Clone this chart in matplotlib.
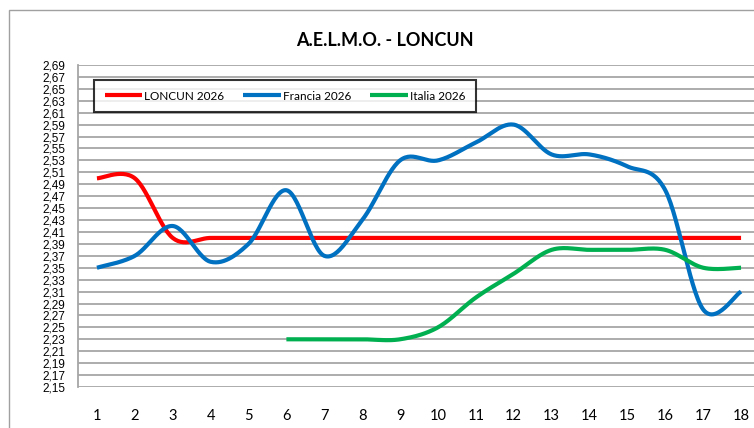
import numpy as np
import matplotlib.pyplot as plt
from matplotlib.patches import Rectangle

# data
meses = list(range(1, 19))
loncun = [2.50, 2.50, 2.40, 2.40, 2.40, 2.40, 2.40, 2.40, 2.40,
          2.40, 2.40, 2.40, 2.40, 2.40, 2.40, 2.40, 2.40, 2.40]
francia = [2.35, 2.37, 2.42, 2.36, 2.39, 2.48, 2.37, 2.43, 2.53,
           2.53, 2.56, 2.59, 2.54, 2.54, 2.52, 2.48, 2.28, 2.31]
italia_x = list(range(6, 19))
italia = [2.23, 2.23, 2.23, 2.23, 2.25, 2.30, 2.34, 2.38, 2.38,
          2.38, 2.38, 2.35, 2.35]
yticks = np.round(np.arange(2.15, 2.70, 0.02), 2)


def smooth(x, y, n=30):
    # Excel-like smoothed line: cubic Bezier with Catmull-Rom control points
    x = np.asarray(x, float)
    y = np.asarray(y, float)
    px = np.concatenate([[x[0]], x, [x[-1]]])
    py = np.concatenate([[y[0]], y, [y[-1]]])
    t = np.linspace(0, 1, n)
    xs, ys = [], []
    for i in range(1, len(px) - 2):
        p0 = np.array([px[i], py[i]])
        p3 = np.array([px[i + 1], py[i + 1]])
        c1 = p0 + (p3 - np.array([px[i - 1], py[i - 1]])) / 6
        c2 = p3 - (np.array([px[i + 2], py[i + 2]]) - p0) / 6
        b = ((1 - t) ** 3)[:, None] * p0 + (3 * (1 - t) ** 2 * t)[:, None] * c1 \
            + (3 * (1 - t) * t ** 2)[:, None] * c2 + (t ** 3)[:, None] * p3
        xs.append(b[:, 0])
        ys.append(b[:, 1])
    return np.concatenate(xs), np.concatenate(ys)


W, H = 754, 428
fig = plt.figure(figsize=(W / 100, H / 100), dpi=100)

# chart border
fig.patches.append(Rectangle((9 / W, -0.1), 1.2, (H - 10) / H + 0.1,
                             transform=fig.transFigure, fill=False,
                             edgecolor='#a0a0a0', lw=1.0))

ax = fig.add_axes([78 / W, (H - 387) / H, (760 - 78) / W, 322 / H])
ax.set_xlim(0.5, 18.5)
ax.set_ylim(2.15, 2.69)

for v in yticks:
    ax.axhline(v, color='#a6a6a6', lw=1.3, zorder=1)

ax.plot(*smooth(meses, loncun), color='#ff0000', lw=3, label='LONCUN 2026',
        solid_capstyle='butt', zorder=3)
ax.plot(*smooth(meses, francia), color='#0070c0', lw=3, label='Francia 2026',
        solid_capstyle='butt', zorder=3)
ax.plot(*smooth(italia_x, italia), color='#00b050', lw=3, label='Italia 2026',
        solid_capstyle='butt', zorder=3)

ax.set_yticks(yticks)
ax.set_yticklabels([f'{v:.2f}'.replace('.', ',') for v in yticks],
                   fontfamily='Liberation Sans', fontsize=8.5)
ax.set_xticks(meses)
ax.set_xticklabels([str(m) for m in meses], fontfamily='Lato', fontsize=10.5)
ax.tick_params(axis='y', length=0, pad=9)
ax.tick_params(axis='x', length=0, pad=16)

for s in ['top', 'right', 'bottom']:
    ax.spines[s].set_visible(False)
ax.spines['left'].set_color('#a6a6a6')
ax.spines['left'].set_linewidth(1.3)

fig.text(385 / W, 1 - 40 / H, 'A.E.L.M.O. - LONCUN', ha='center', va='center',
         fontfamily='Lato', fontweight='bold', fontsize=13)

leg = ax.legend(loc='upper left', bbox_to_anchor=(94 / W, 1 - 80 / H),
                bbox_transform=fig.transFigure, ncol=3, frameon=True,
                fancybox=False, prop={'family': 'Lato', 'size': 8.5},
                handlelength=3.2, handletextpad=0.15, columnspacing=1.6,
                borderpad=0.9, borderaxespad=0)
leg.get_frame().set_edgecolor('black')
leg.get_frame().set_linewidth(1.5)

fig.savefig('out.png', dpi=100)
